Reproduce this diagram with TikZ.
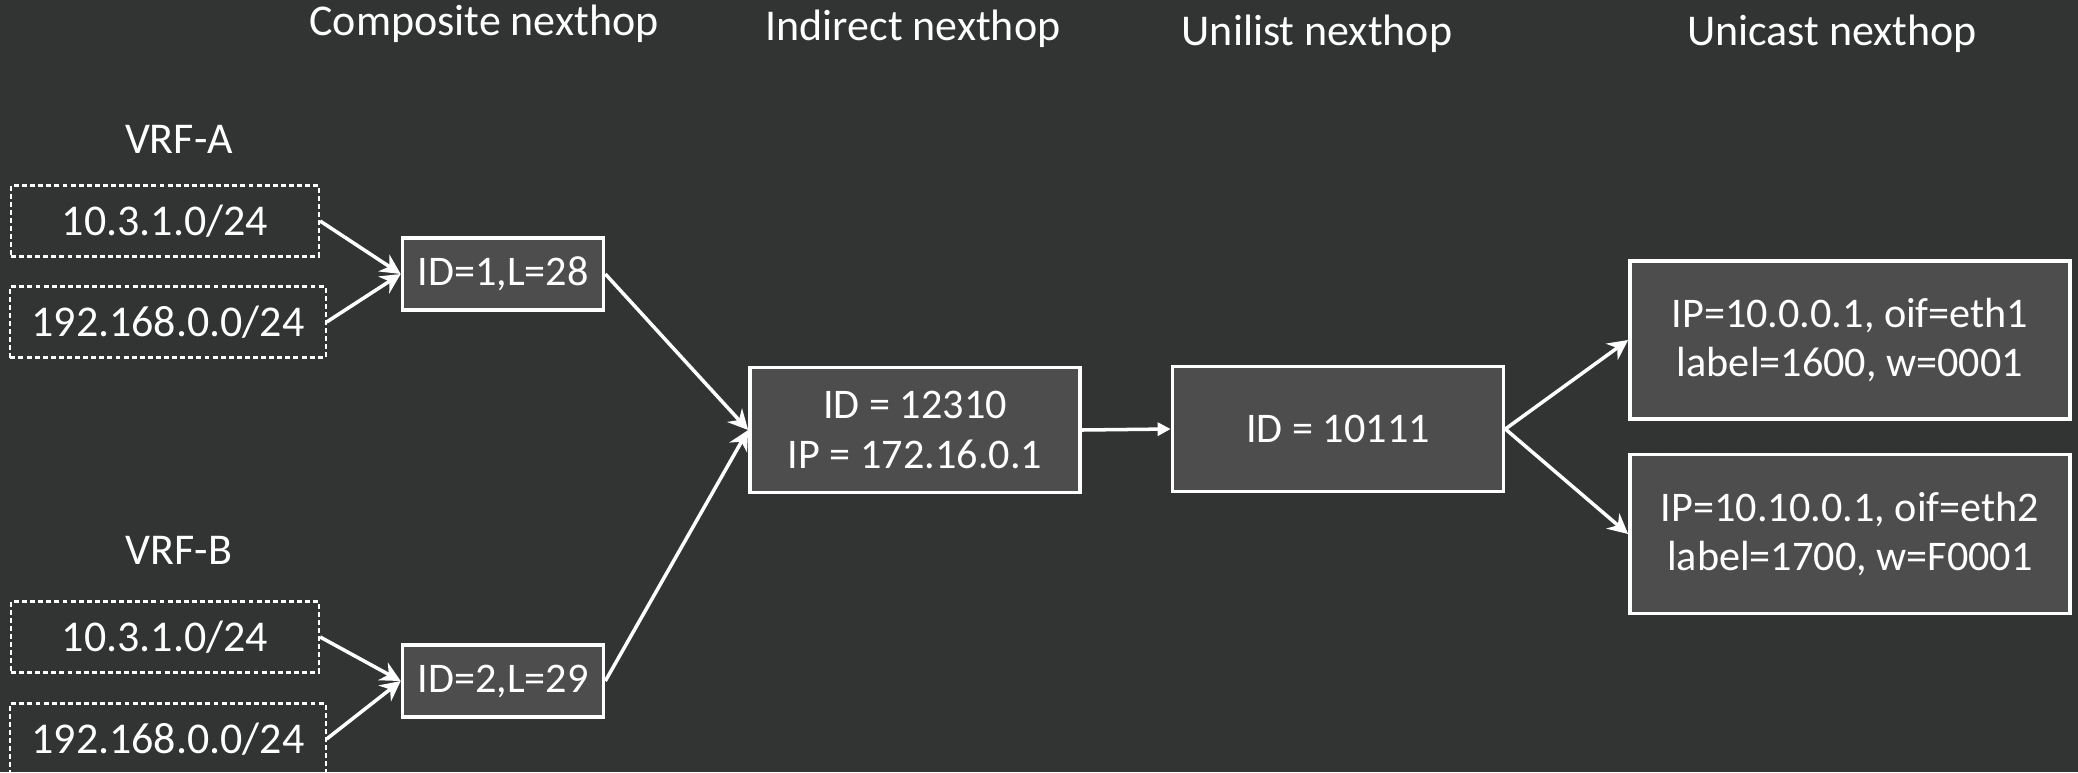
\documentclass[tikz,border=0pt]{standalone}
\usepackage{fontspec}
\setmainfont{Carlito}
\usetikzlibrary{arrows.meta}
\definecolor{bgcol}{RGB}{50,51,51}
\definecolor{boxcol}{RGB}{77,77,77}

\begin{document}
\begin{tikzpicture}[x=0.01cm,y=-0.01cm,
  every node/.style={text=white,font=\fontsize{12}{14}\selectfont},
  head/.style={font=\fontsize{12.5}{15}\selectfont},
  netbox/.style={draw=white,line width=0.6pt,dash pattern={on 1.4pt off 0.9pt},inner sep=0,minimum height=0.71cm,font=\fontsize{12.5}{15}\selectfont},
  hop/.style={draw=white,fill=boxcol,line width=1pt,inner sep=0,align=center},
  link/.style={white,line width=1pt,-{Stealth[length=0.2cm,width=0.2cm]}}]
\useasboundingbox (0,0) rectangle (2078,772);
\fill[bgcol] (0,0) rectangle (2078,772);
% column titles
\node[head] (tcomp) at (484,24) {Composite nexthop};
\node[head] (tind) at (913,29) {Indirect nexthop};
\node[head] (tuni) at (1317,34) {Unilist nexthop};
\node[head] (tucast) at (1832,34) {Unicast nexthop};
\node[head] (vrfa) at (179,139) {VRF-A};
\node[head] (vrfb) at (179,550) {VRF-B};
% prefixes
\node[netbox,minimum width=3.08cm] (pa1) at (165,221) {10.3.1.0/24};
\node[netbox,minimum width=3.15cm] (pa2) at (168,322) {192.168.0.0/24};
\node[netbox,minimum width=3.08cm] (pb1) at (165,637) {10.3.1.0/24};
\node[netbox,minimum width=3.15cm] (pb2) at (168,739) {192.168.0.0/24};
% nexthops
\node[hop,minimum width=2.01cm,minimum height=0.72cm] (comp1) at (503,274) {ID=1,L=28};
\node[hop,minimum width=2.01cm,minimum height=0.72cm] (comp2) at (503,681) {ID=2,L=29};
\node[hop,minimum width=3.3cm,minimum height=1.25cm] (ind) at (915,430) {ID = 12310\\IP = 172.16.0.1};
\node[hop,minimum width=3.31cm,minimum height=1.25cm] (uni) at (1338,429) {ID = 10111};
\node[hop,minimum width=4.4cm,minimum height=1.58cm] (uc1) at (1850,340) {IP=10.0.0.1, oif=eth1\\label=1600, w=0001};
\node[hop,minimum width=4.4cm,minimum height=1.59cm] (uc2) at (1850,534) {IP=10.10.0.1, oif=eth2\\label=1700, w=F0001};
% links
\draw[link] (pa1.east) -- (comp1.west);
\draw[link] (pa2.east) -- (comp1.west);
\draw[link] (pb1.east) -- (comp2.west);
\draw[link] (pb2.east) -- (comp2.west);
\draw[link] (comp1.east) -- (ind.west);
\draw[link] (comp2.east) -- (ind.west);
\draw[white,line width=1pt,-{Triangle[length=0.13cm,width=0.13cm]}] (ind.east) -- (uni.west);
\draw[link] (uni.east) -- (uc1.west);
\draw[link] (uni.east) -- (uc2.west);
\end{tikzpicture}
\end{document}
